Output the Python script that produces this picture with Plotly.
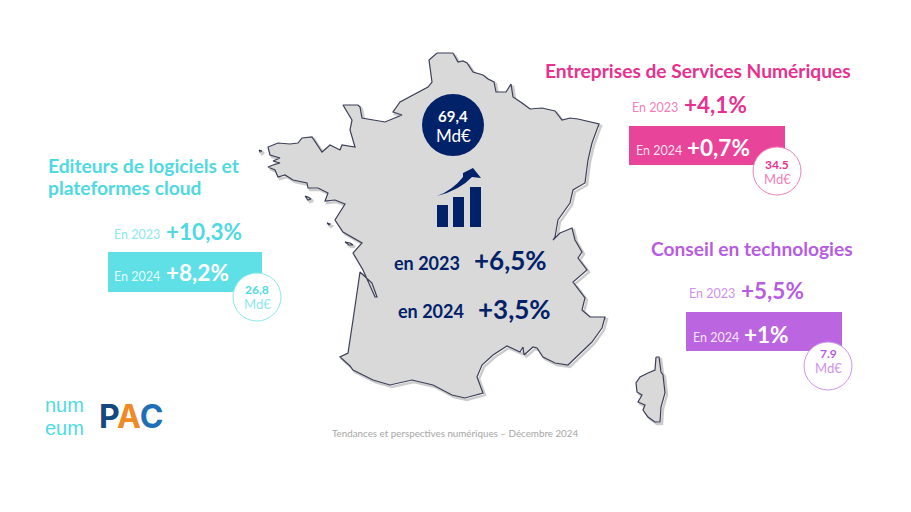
import plotly.graph_objects as go

# values
segments = [["Editeurs de logiciels et", "plateformes cloud"], ["Entreprises de Services Numériques"], ["Conseil en technologies"]]
growth_2023 = ["+10,3%", "+4,1%", "+5,5%"]
growth_2024 = ["+8,2%", "+0,7%", "+1%"]
revenue = ["26,8", "34.5", "7.9"]
total_revenue = "69,4"
total_growth = ["+6,5%", "+3,5%"]
years_lower = ["en 2023", "en 2024"]
years = ["En 2023", "En 2024"]
footer = "Tendances et perspectives numériques – Décembre 2024"

# map outlines, in picture pixels
france_x = [453, 458, 463, 467, 473, 483, 488, 494, 496, 506, 511, 513, 522, 530, 542, 555, 562, 570, 578, 599, 592, 588, 585, 573, 570, 558,
            555, 553, 560, 572, 575, 582, 578, 587, 573, 580, 585, 582, 590, 605, 602, 592, 580, 568, 555, 543, 537, 533, 524,
            523, 520, 507, 493, 482, 477, 483, 465, 452, 433, 412, 390, 373, 353, 350, 340, 348, 353, 360, 372, 377, 375, 363, 353,
            362, 343, 335, 345, 335, 325, 328, 318, 308, 307, 293, 285, 278, 275, 268, 273, 280, 273, 280, 270, 268, 278, 290,
            298, 302, 312, 322, 330, 340, 342, 355, 350, 352, 343, 358, 360, 362, 385, 402, 393, 400, 428, 432, 429, 437, 453]
france_y = [53, 62, 61, 63, 72, 75, 79, 82, 92, 92, 84, 97, 103, 109, 108, 111, 120, 118, 119, 124, 143, 160, 183, 190, 203, 220,
            237, 240, 233, 228, 240, 252, 258, 270, 282, 292, 298, 310, 317, 317, 328, 342, 353, 365, 363, 357, 348, 347, 355,
            347, 352, 346, 355, 365, 377, 393, 398, 395, 385, 380, 385, 380, 370, 366, 357, 353, 320, 272, 283, 297, 297, 270, 253,
            243, 232, 220, 204, 200, 201, 193, 188, 188, 183, 180, 175, 177, 170, 167, 165, 163, 161, 158, 155, 147, 143, 144,
            143, 138, 137, 152, 145, 150, 145, 147, 130, 120, 105, 105, 107, 118, 122, 115, 112, 102, 87, 82, 60, 53, 53]
corsica_x = [656, 659, 661, 663, 665, 661, 660, 655, 648, 643, 645, 638, 642, 637, 636, 640, 648, 655, 656]
corsica_y = [357, 357, 372, 375, 393, 407, 422, 422, 417, 410, 405, 402, 395, 392, 383, 377, 373, 370, 357]
belle_ile_x = [305, 308, 311, 308, 305]
belle_ile_y = [196, 197, 199, 200, 196]
re_x = [345, 350, 353, 349, 345]
re_y = [242, 243, 245, 245, 242]
yeu_x = [327, 330, 329, 327]
yeu_y = [223, 224, 225, 223]
ushant_x = [259, 262, 260, 259]
ushant_y = [150, 151, 152, 150]

map_x = france_x + [None] + corsica_x + [None] + belle_ile_x + [None] + re_x + [None] + yeu_x + [None] + ushant_x
map_y = france_y + [None] + corsica_y + [None] + belle_ile_y + [None] + re_y + [None] + yeu_y + [None] + ushant_y

NAVY = "#012169"
CYAN = "#5fdfe6"
PINK = "#e8449a"
PURPLE = "#bb66e0"
FONT = "Lato"

fig = go.Figure()

# soft shadow under the map, then the map itself
shadow_x = [v + 2 if v is not None else None for v in map_x]
shadow_y = [v + 2 if v is not None else None for v in map_y]
fig.add_trace(go.Scatter(x=shadow_x, y=shadow_y, mode="lines", line=dict(color="rgba(0,0,0,0.2)", width=2.5), hoverinfo="skip"))
fig.add_trace(go.Scatter(x=map_x, y=map_y, mode="lines", fill="toself", fillcolor="#d9d9d9",
                         line=dict(color="#3b3f58", width=1.2), hoverinfo="skip"))

shapes = []
annotations = []


def label(x, y, text, color, size, bold=False, anchor="left", font=FONT):
    annotations.append(dict(x=x, y=y, text=f"<b>{text}</b>" if bold else text, xref="x", yref="y", showarrow=False,
                            xanchor=anchor, yanchor="middle", align="left", font=dict(family=font, size=size, color=color)))


# one block per segment
blocks = [
    dict(color=CYAN, title_color="#4fd9e0", title=(46, [165, 187]), box=(108, 252, 262, 292), circle=(257, 297),
         y23=(112, 234, 164, 231), y24=(112, 276, 164, 272), num_y=289, md_y=304, soft="#8de8ed"),
    dict(color=PINK, title_color="#e8308f", title=(543, [70]), box=(629, 126, 785, 165), circle=(777, 171),
         y23=(630, 107, 682, 104), y24=(634, 150, 685, 147), num_y=164, md_y=179, soft="#f07fb8"),
    dict(color=PURPLE, title_color="#b85ce0", title=(649, [248]), box=(686, 312, 842, 351), circle=(828, 366),
         y23=(687, 293, 739, 290), y24=(691, 337, 742, 334), num_y=353, md_y=368, soft="#cf92ea"),
]

for i, b in enumerate(blocks):
    x0, y0, x1, y1 = b["box"]
    cx, cy = b["circle"]
    shapes.append(dict(type="rect", x0=x0, y0=y0, x1=x1, y1=y1, fillcolor=b["color"], line_width=0))
    shapes.append(dict(type="circle", x0=cx - 24, y0=cy - 24, x1=cx + 24, y1=cy + 24, fillcolor="white",
                       line=dict(color=b["soft"], width=1)))
    for line, ty in zip(segments[i], b["title"][1]):
        label(b["title"][0], ty, line, b["title_color"], 19.2, bold=True)
    label(b["y23"][0], b["y23"][1], years[0], b["soft"], 12.5)
    label(b["y23"][2], b["y23"][3], growth_2023[i], b["title_color"], 22.5, bold=True)
    label(b["y24"][0], b["y24"][1], years[1], "rgba(255,255,255,0.85)", 12.5)
    label(b["y24"][2], b["y24"][3], growth_2024[i], "white", 22.5, bold=True)
    label(cx, b["num_y"], revenue[i], b["title_color"], 12, bold=True, anchor="center")
    label(cx, b["md_y"], "Md€", b["soft"], 13, anchor="center")

# centre of the map
shapes.append(dict(type="circle", x0=422, y0=94, x1=484, y1=156, fillcolor=NAVY, line_width=0))
label(453, 116, total_revenue, "white", 15, bold=True, anchor="center")
label(453, 135, "Md€", "white", 17, anchor="center")

# rising bars icon
for bx0, by0, bx1 in [(437, 205, 448), (453, 197, 464), (470, 187, 481)]:
    shapes.append(dict(type="rect", x0=bx0, y0=by0, x1=bx1, y1=227, fillcolor=NAVY, line_width=0))
shapes.append(dict(type="path", path="M437,196 Q453,190 463,177 L463,173 L473,168 L481,178 L472,177 Q460,190 437,196 Z",
                   fillcolor=NAVY, line_width=0))

label(392, 263, years_lower[0], NAVY, 18, bold=True)
label(472, 260, total_growth[0], NAVY, 26, bold=True)
label(396, 311, years_lower[1], NAVY, 18, bold=True)
label(476, 309, total_growth[1], NAVY, 26, bold=True)

label(330, 433, footer, "#a6a6a6", 9.8)

# logos
label(43, 405, "num", "#4fdbe3", 20, font="Liberation Sans")
label(43, 428, "eum", "#4fdbe3", 20, font="Liberation Sans")
label(97, 416, "<span style='color:#14487f'>P</span><span style='color:#f08a24'>A</span><span style='color:#1f6fb5'>C</span>",
      "#14487f", 32, bold=True, font="Inter")

fig.update_layout(
    width=911, height=512, margin=dict(l=0, r=0, t=0, b=0), showlegend=False,
    paper_bgcolor="white", plot_bgcolor="white",
    xaxis=dict(range=[0, 911], visible=False, fixedrange=True),
    yaxis=dict(range=[512, 0], visible=False, fixedrange=True),
    shapes=shapes, annotations=annotations,
)

fig.write_html("out.html", config=dict(displayModeBar=False), post_script="document.body.style.margin='0';")
